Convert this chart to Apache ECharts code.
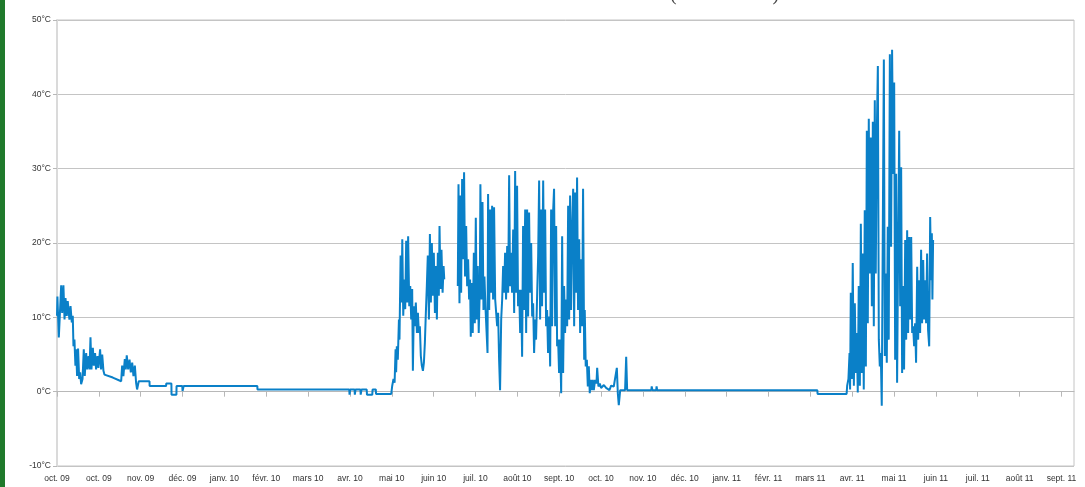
<!DOCTYPE html>
<html>
<head>
<meta charset="utf-8">
<script src="https://cdn.jsdelivr.net/npm/echarts@6/dist/echarts.min.js"></script>
<style>
html,body{margin:0;padding:0;background:#fff;}
#chart{width:1085px;height:487px;}
</style>
</head>
<body>
<div id="chart"></div>
<script>
// x = days since 1 Oct 2009, ticks every 30 days
const tickDays = [0,30,60,90,120,150,180,210,240,270,300,330,360,390,420,450,480,510,540,570,600,630,660,690,720];
const tickLabels = ['oct. 09','oct. 09','nov. 09','déc. 09','janv. 10','févr. 10','mars 10','avr. 10','mai 10','juin 10','juil. 10','août 10','sept. 10','oct. 10','nov. 10','déc. 10','janv. 11','févr. 11','mars 11','avr. 11','mai 11','juin 11','juil. 11','août 11','sept. 11'];
const tempTicks = [-10,0,10,20,30,40,50];

// [day, °C]
const autumn09 = [
[0,10.2],[0.3,12.8],[1.3,7.3],[3.0,14.3],[3.7,10.6],[4.6,14.3],[5.4,9.7],[6.1,12.6],[7.0,10.2],[7.7,12.2],
[8.9,9.7],[9.7,11.5],[10.6,9.3],[11.3,10.2],[11.8,6.1],[12.5,7.0],[13.2,3.5],[13.7,5.7],[14.4,2.1],[15.1,5.8],
[15.9,1.7],[16.6,2.6],[17.3,1.0],[18.3,1.7],[19.2,5.7],[19.9,2.1],[20.9,5.2],[21.6,3.0],[22.6,4.8],[23.3,3.0],
[24.0,7.3],[24.7,3.0],[25.7,5.9],[26.4,3.5],[27.3,5.2],[28.0,3.0],[29.0,4.8],[29.7,3.2],[30.9,5.7],[31.6,3.0],
[32.4,5.0],[33.3,2.8],[34.0,2.3],[40.0,1.9],[46.0,1.4],[46.7,3.5],[47.6,2.1],[48.6,4.4],[49.3,3.0],[50.0,4.9],
[51.0,3.0],[52.0,4.3],[52.9,2.6],[53.9,3.9],[54.8,2.1],[55.8,3.5],[56.7,1.2],[57.4,0.3],[58.6,1.4]
];
const winter0910 = [
[66.3,1.4],[66.4,0.75],[78.2,0.75],[78.3,1.1],[82.0,1.1],[82.1,-0.4],[85.6,-0.4],[85.7,0.75],[89.8,0.75],[90.0,0.1],
[90.8,0.75],[143.6,0.75],[143.7,0.3],[209.5,0.3],[209.7,-0.4],[210.2,0.3],[213.3,0.3],[213.5,-0.4],[214.0,0.3],[217.5,0.3],
[217.7,-0.4],[218.3,0.3],[222.0,0.3],[222.2,-0.4],[226.0,-0.4],[226.2,0.3],[228.5,0.3],[228.7,-0.3],[239.6,-0.3]
];
const spring10 = [
[240.3,0.8],[241.2,1.7],[242.0,1.2],[242.7,5.7],[243.1,2.6],[243.6,6.1],[244.3,4.3],[245.1,9.7],[245.5,7.0],[246.3,18.3],
[247.0,12.0],[247.5,20.5],[248.2,10.2],[248.9,15.1],[249.6,11.1],[250.3,20.3],[251.0,12.0],[251.7,20.9],[252.5,11.5],[253.2,14.2],
[253.9,9.7],[254.6,13.8],[255.1,2.8],[255.8,11.5],[256.5,8.8],[257.2,12.0],[258.0,7.9],[258.7,10.6],[259.4,7.9],[260.1,8.8],
[260.8,4.8],[261.5,3.5],[262.3,2.8],[263.0,3.9],[263.7,6.6],[264.4,10.6],[265.1,14.2],[265.8,18.3],[266.6,9.7],[267.3,21.2],
[268.0,12.0],[268.7,20.0],[269.4,12.9],[270.1,18.7],[270.9,10.6],[271.6,16.9],[272.3,9.7],[273.0,18.7],[273.7,12.9],[274.2,22.3],
[274.9,13.8],[275.6,19.1],[276.4,13.3],[277.1,16.9],[277.6,15.1]
];
const summer10 = [
[287.3,14.2],[287.8,27.9],[288.5,11.9],[289.2,26.4],[289.7,13.3],[290.4,28.6],[291.1,17.8],[291.8,29.5],[292.5,15.5],[293.3,22.3],
[294.0,14.2],[294.7,17.8],[295.4,12.4],[296.1,15.1],[296.6,7.4],[297.3,14.6],[298.0,7.9],[298.8,18.7],[299.5,9.2],[300.2,23.4],
[300.9,9.7],[301.6,16.9],[302.3,7.9],[303.1,14.2],[303.5,27.9],[304.3,12.4],[305.0,25.5],[305.7,11.0],[306.4,15.5],[307.1,11.5],
[308.6,5.2],[309.0,26.6],[309.8,11.0],[310.5,24.5],[311.2,13.3],[311.9,25.0],[312.6,12.4],[313.3,24.8],[314.1,12.4],[315.5,8.8],
[316.2,10.6],[316.9,4.3],[317.6,0.2],[318.4,9.7],[319.1,12.4],[319.8,16.9],[320.5,13.3],[321.2,18.7],[321.9,12.4],[322.7,19.6],
[323.4,13.3],[324.1,29.1],[324.8,14.2],[325.5,18.7],[326.2,13.3],[327.0,21.8],[327.7,10.6],[328.4,29.7],[329.1,13.3],[329.8,27.7],
[330.5,11.5],[331.3,13.7],[332.0,7.9],[332.7,13.7],[333.4,4.7],[334.1,22.3],[334.8,11.0],[335.6,24.5],[336.3,7.9],[337.0,24.5],
[337.7,10.1],[338.4,24.1],[339.1,13.3],[339.9,20.0],[340.6,10.1],[341.3,11.9],[342.0,5.2],[342.7,9.7],[343.4,7.0],[344.2,13.3],
[344.9,18.2],[345.6,28.4],[346.3,9.7],[347.0,24.5],[347.7,11.5],[348.5,28.4],[349.2,13.3],[349.9,24.5],[350.6,8.8],[351.3,11.0],
[352.0,5.2],[352.8,10.1],[353.5,3.4],[354.2,24.5],[354.9,8.8],[355.6,24.1],[356.3,27.3],[357.1,8.8],[357.8,22.3],[358.5,6.1],
[359.2,7.0],[359.9,2.5],[360.6,7.0],[361.4,-0.2],[362.1,20.9],[362.8,2.5],[363.5,14.2],[364.2,7.9],[364.9,12.4],[365.7,8.8],
[366.4,25.0],[367.1,9.7],[367.8,26.4],[368.5,11.0],[369.3,22.3],[370.0,27.3],[370.7,8.8],[371.4,26.8],[372.1,13.3],[372.8,28.8],
[373.5,11.0],[374.3,20.5],[375.0,7.9],[375.7,17.8],[376.4,8.8],[377.1,27.3],[377.9,4.3],[378.3,11.0],[379.0,3.4],[379.8,4.3],
[380.5,0.7],[381.2,3.4],[381.9,-0.2],[382.6,1.6],[383.3,0.2],[384.1,1.6],[384.8,0.2],[385.7,1.6],[386.7,1.1],[387.2,3.2],
[388.1,0.7],[389.1,1.1],[390.0,0.5],[392.0,0.9],[393.6,0.5],[394.8,0.7],[396.0,0.2],[397.2,0.8],[399.1,0.7],[401.3,3.2],
[402.0,-0.2],[402.7,-1.8],[403.7,0.2],[407.2,0.2],[408.0,4.7],[408.7,0.2]
];
const winter1011 = [
[426.0,0.2],[426.3,0.7],[426.8,0.2],[429.5,0.2],[429.8,0.7],[430.2,0.2],[545.0,0.2],[545.2,-0.3],[566.0,-0.3]
];
const spring11 = [
[566.4,0.8],[567.3,1.7],[568.1,5.2],[568.5,0.3],[569.0,13.3],[569.7,1.7],[570.4,17.3],[571.2,0.8],[571.9,11.9],[572.6,2.5],
[573.3,7.9],[574.0,-0.1],[574.7,14.2],[575.5,0.8],[576.2,22.6],[576.9,2.5],[577.6,18.6],[578.3,0.3],[579.0,24.4],[579.8,3.4],
[580.5,35.1],[581.2,9.2],[581.9,36.7],[582.6,15.9],[583.3,34.2],[584.1,11.5],[584.8,36.3],[585.5,8.8],[586.2,39.2],[586.9,15.9],
[587.6,34.2],[588.4,43.8],[589.1,7.0],[589.8,3.4],[590.5,5.2],[591.2,-1.9],[591.9,20.4],[592.7,44.7],[593.4,4.8],[594.1,15.9],
[594.8,3.9],[595.5,22.2],[596.2,7.0],[597.0,45.4],[597.4,45.6],[597.9,19.5],[598.6,46.0],[599.4,29.3],[600.1,41.6],[600.8,4.3],
[601.5,29.3],[602.2,1.2],[602.9,18.2],[603.7,35.1],[604.4,11.5],[605.1,30.2],[605.8,2.5],[606.5,14.2],[607.2,3.0],[608.0,20.4],
[608.7,7.0],[609.4,21.7],[610.1,7.9],[610.8,20.8],[611.5,9.7],[612.3,20.8],[613.0,7.9],[613.7,8.8],[614.4,6.1],[615.1,9.2],
[615.8,3.9],[616.6,16.8],[617.3,7.0],[618.0,15.0],[618.7,7.9],[619.4,19.1],[620.1,9.2],[620.9,17.7],[621.6,9.7],[622.3,15.0],
[623.0,9.2],[623.7,18.6],[624.4,8.3],[625.2,6.1],[625.9,23.5],[626.6,15.0],[627.1,21.3],[627.5,12.4],[628.0,20.4]
];

const seriesData = [].concat(autumn09, winter0910, spring10, [[281, null]], summer10, winter1011, spring11);

const chart = echarts.init(document.getElementById('chart'), null, {renderer: 'canvas'});
chart.setOption({
  animation: false,
  backgroundColor: '#ffffff',
  grid: {left: 57, right: 11, top: 20, bottom: 21, show: true, borderColor: '#c4c4c4', borderWidth: 1, containLabel: false, outerBoundsMode: 'none'},
  graphic: [
    {type: 'rect', left: 0, top: 0, shape: {width: 5, height: 487}, style: {fill: '#207a2c'}},
    {type: 'text', x: 670, y: 5, style: {text: '(2009 - 2011)', font: '20px "Liberation Serif"', fill: '#444', verticalAlign: 'bottom'}}
  ],
  xAxis: {
    type: 'value', min: 0, max: 729, interval: 30,
    splitLine: {show: false},
    axisLine: {show: true, lineStyle: {color: '#b8b8b8', width: 1}},
    axisTick: {show: true, length: 5, lineStyle: {color: '#b8b8b8'}, customValues: tickDays},
    axisLabel: {
      customValues: tickDays, margin: 8, fontSize: 8.5, color: '#333', fontFamily: 'Liberation Sans',
      formatter: function (v) { const i = tickDays.indexOf(Math.round(v)); return i >= 0 ? tickLabels[i] : ''; }
    }
  },
  yAxis: {
    type: 'value', min: tempTicks[0], max: tempTicks[tempTicks.length - 1], interval: 10,
    axisLine: {show: true, lineStyle: {color: '#dadada', width: 2}},
    axisTick: {show: true, length: 4, lineStyle: {color: '#b8b8b8'}},
    splitLine: {show: true, lineStyle: {color: '#c4c4c4', width: 1}},
    axisLabel: {margin: 6, fontSize: 8.5, color: '#333', fontFamily: 'Liberation Sans', formatter: '{value}°C'}
  },
  series: [{
    type: 'line', data: seriesData, showSymbol: false, symbol: 'none', connectNulls: false,
    sampling: null, lineStyle: {color: '#0a80c8', width: 2}, itemStyle: {color: '#0a80c8'}
  }]
});
</script>
</body>
</html>
